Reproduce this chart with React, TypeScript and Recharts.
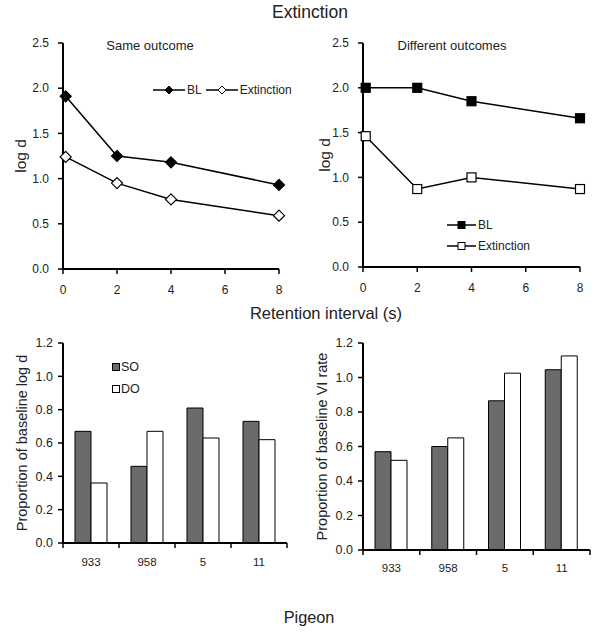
import React from 'react';
import { LineChart, Line, BarChart, Bar, XAxis, YAxis, Legend } from 'recharts';

const intervals = [0.1, 2, 4, 8];
const sameBL = [1.91, 1.25, 1.18, 0.93];
const sameExt = [1.24, 0.95, 0.77, 0.59];
const diffBL = [2.0, 2.0, 1.85, 1.66];
const diffExt = [1.46, 0.87, 1.0, 0.87];
const intervalTicks = [0, 2, 4, 6, 8];
const logTicks = [0, 0.5, 1, 1.5, 2, 2.5];

const pigeons = ['933', '958', '5', '11'];
const logdSO = [0.67, 0.46, 0.81, 0.73];
const logdDO = [0.36, 0.67, 0.63, 0.62];
const rateSO = [0.57, 0.6, 0.865, 1.045];
const rateDO = [0.52, 0.65, 1.025, 1.125];
const propTicks = [0, 0.2, 0.4, 0.6, 0.8, 1.0, 1.2];
// integer slots are the boundaries between pigeons, halves are the pigeons
const slotTicks = [0, 0.5, 1, 1.5, 2, 2.5, 3, 3.5, 4];

const sameData = intervals.map((t, i) => ({ t, bl: sameBL[i], ext: sameExt[i] }));
const diffData = intervals.map((t, i) => ({ t, bl: diffBL[i], ext: diffExt[i] }));
const logdData = pigeons.map((p, i) => ({ slot: i + 0.5, name: p, so: logdSO[i], do: logdDO[i] }));
const rateData = pigeons.map((p, i) => ({ slot: i + 0.5, name: p, so: rateSO[i], do: rateDO[i] }));

const FONT = '"Liberation Sans", Arial, sans-serif';
const INK = '#222';
const SO_FILL = '#6b6b6b';

const tickStyle = { fontSize: 12, fill: INK, fontFamily: FONT };
const barTickStyle = { fontSize: 12.5, fill: INK, fontFamily: FONT };
const axisLine = { stroke: '#000', strokeWidth: 2 };
const tickLine = { stroke: '#000', strokeWidth: 1.5 };

const marker = (shape: string, filled: boolean) => (props: any) => {
  const { cx, cy, index } = props;
  const fill = filled ? '#000' : '#fff';
  if (shape === 'diamond') {
    const r = 5.5;
    return (
      <polygon key={`m-${index}`} points={`${cx},${cy - r} ${cx + r},${cy} ${cx},${cy + r} ${cx - r},${cy}`}
        fill={fill} stroke="#000" strokeWidth={1.2} />
    );
  }
  const h = 4.5;
  return <rect key={`m-${index}`} x={cx - h} y={cy - h} width={h * 2} height={h * 2} fill={fill} stroke="#000" strokeWidth={1.2} />;
};

function LineKey({ shape, filled, label, len }: { shape: string; filled: boolean; label: string; len: number }) {
  const c = len / 2;
  const fill = filled ? '#000' : '#fff';
  return (
    <span style={{ display: 'inline-flex', alignItems: 'center', height: 20 }}>
      <svg width={len} height={10} style={{ marginRight: 2 }}>
        <line x1={0} y1={5} x2={len} y2={5} stroke="#000" strokeWidth={1.5} />
        {shape === 'diamond'
          ? <polygon points={`${c},1 ${c + 4},5 ${c},9 ${c - 4},5`} fill={fill} stroke="#000" />
          : <rect x={c - 3.5} y={1.5} width={7} height={7} fill={fill} stroke="#000" />}
      </svg>
      <span>{label}</span>
    </span>
  );
}

function PigeonTick(props: any) {
  const { x, y, payload, dy } = props;
  const v = payload.value;
  if (Number.isInteger(v)) {
    return <line x1={x} y1={y} x2={x} y2={y + 5} stroke="#000" strokeWidth={1.5} />;
  }
  return (
    <text x={x} y={y + dy} textAnchor="middle" fontSize={11.5} fill={INK} fontFamily={FONT}>
      {pigeons[Math.floor(v)]}
    </text>
  );
}

const overlay = (text: string, x: number, y: number, size: number) => (
  <div style={{ position: 'absolute', left: x, top: y, transform: 'translate(-50%, -50%)', fontSize: size, color: INK, whiteSpace: 'nowrap', lineHeight: 1 }}>
    {text}
  </div>
);

const yLabel = (value: string, offset: number, size: number) => ({
  value, angle: -90, position: 'insideLeft', offset,
  style: { textAnchor: 'middle', fontSize: size, fill: INK, fontFamily: FONT },
});

export default function App() {
  return (
    <div style={{ position: 'relative', width: 605, height: 633, fontFamily: FONT, background: '#fff' }}>
      <style>{'body{margin:0}'}</style>
      {overlay('Extinction', 310, 13, 17.5)}
      {overlay('Retention interval (s)', 326, 313, 16.5)}
      {overlay('Pigeon', 309, 617, 16.3)}
      {overlay('Same outcome', 150, 45, 13)}
      {overlay('Different outcomes', 452, 45, 13)}

      <div style={{ position: 'absolute', left: 0, top: 30 }}>
        <LineChart width={300} height={270} data={sameData} margin={{ top: 13, right: 21, bottom: 1, left: 0 }}>
          <XAxis dataKey="t" type="number" domain={[0, 8]} ticks={intervalTicks} interval={0} height={30}
            tick={tickStyle} axisLine={axisLine} tickLine={tickLine} tickSize={5} tickMargin={11} />
          <YAxis type="number" domain={[0, 2.5]} ticks={logTicks} interval={0} width={63}
            tick={tickStyle} axisLine={axisLine} tickLine={tickLine} tickSize={5} tickMargin={9}
            tickFormatter={(v: number) => v.toFixed(1)}
            label={yLabel('log d', 20, 15.5)} />
          <Legend layout="horizontal" align="center" verticalAlign="middle"
            wrapperStyle={{ left: 153, top: 50, width: 'auto', fontSize: 12, color: INK }}
            content={() => (
              <div style={{ display: 'flex', gap: 4 }}>
                <LineKey shape="diamond" filled label="BL" len={32} />
                <LineKey shape="diamond" filled={false} label="Extinction" len={32} />
              </div>
            )} />
          <Line dataKey="bl" stroke="#000" strokeWidth={1.5} dot={marker('diamond', true)} isAnimationActive={false} />
          <Line dataKey="ext" stroke="#000" strokeWidth={1.5} dot={marker('diamond', false)} isAnimationActive={false} />
        </LineChart>
      </div>

      <div style={{ position: 'absolute', left: 300, top: 30 }}>
        <LineChart width={305} height={270} data={diffData} margin={{ top: 13, right: 25, bottom: 1, left: 0 }}>
          <XAxis dataKey="t" type="number" domain={[0, 8]} ticks={intervalTicks} interval={0} height={32}
            tick={tickStyle} axisLine={axisLine} tickLine={tickLine} tickSize={5} tickMargin={11} />
          <YAxis type="number" domain={[0, 2.5]} ticks={logTicks} interval={0} width={63}
            tick={tickStyle} axisLine={axisLine} tickLine={tickLine} tickSize={5} tickMargin={9}
            tickFormatter={(v: number) => v.toFixed(1)}
            label={yLabel('log d', 24, 15.5)} />
          <Legend layout="vertical" align="center" verticalAlign="middle"
            wrapperStyle={{ left: 147, top: 185, width: 'auto', fontSize: 12, color: INK }}
            content={() => (
              <div style={{ display: 'flex', flexDirection: 'column', gap: 1 }}>
                <LineKey shape="square" filled label="BL" len={29} />
                <LineKey shape="square" filled={false} label="Extinction" len={29} />
              </div>
            )} />
          <Line dataKey="bl" stroke="#000" strokeWidth={1.5} dot={marker('square', true)} isAnimationActive={false} />
          <Line dataKey="ext" stroke="#000" strokeWidth={1.5} dot={marker('square', false)} isAnimationActive={false} />
        </LineChart>
      </div>

      <div style={{ position: 'absolute', left: 0, top: 330 }}>
        <BarChart width={300} height={270} data={logdData} margin={{ top: 13, right: 13, bottom: 1, left: 0 }} barGap={0}>
          <XAxis dataKey="slot" type="number" domain={[0, 4]} ticks={slotTicks} interval={0} height={56}
            axisLine={axisLine} tickLine={false} tickSize={0} tickMargin={0} tick={<PigeonTick dy={23} />} />
          <YAxis type="number" domain={[0, 1.2]} ticks={propTicks} interval={0} width={63}
            tick={barTickStyle} axisLine={axisLine} tickLine={tickLine} tickSize={5} tickMargin={5}
            tickFormatter={(v: number) => v.toFixed(1)}
            label={yLabel('Proportion of baseline log d', 22, 14.5)} />
          <Legend layout="vertical" align="center" verticalAlign="middle"
            wrapperStyle={{ left: 112, top: 28, width: 'auto', fontSize: 12.5, color: INK }}
            content={() => (
              <div style={{ display: 'flex', flexDirection: 'column', gap: 5 }}>
                {[['SO', SO_FILL], ['DO', '#fff']].map(([name, fill]) => (
                  <span key={name} style={{ display: 'inline-flex', alignItems: 'center', height: 17 }}>
                    <svg width={8} height={8} style={{ marginRight: 1 }}>
                      <rect x={0.5} y={0.5} width={7} height={7} fill={fill} stroke="#000" />
                    </svg>
                    {name}
                  </span>
                ))}
              </div>
            )} />
          <Bar dataKey="so" fill={SO_FILL} stroke="#000" strokeWidth={1} barSize={16} isAnimationActive={false} />
          <Bar dataKey="do" fill="#fff" stroke="#000" strokeWidth={1} barSize={16} isAnimationActive={false} />
        </BarChart>
      </div>

      <div style={{ position: 'absolute', left: 300, top: 330 }}>
        <BarChart width={305} height={270} data={rateData} margin={{ top: 13, right: 15, bottom: 1, left: 0 }} barGap={0}>
          <XAxis dataKey="slot" type="number" domain={[0, 4]} ticks={slotTicks} interval={0} height={49}
            axisLine={axisLine} tickLine={false} tickSize={0} tickMargin={0} tick={<PigeonTick dy={22} />} />
          <YAxis type="number" domain={[0, 1.2]} ticks={propTicks} interval={0} width={63}
            tick={barTickStyle} axisLine={axisLine} tickLine={tickLine} tickSize={5} tickMargin={5}
            tickFormatter={(v: number) => v.toFixed(1)}
            label={yLabel('Proportion of baseline VI rate', 22, 14.5)} />
          <Bar dataKey="so" fill={SO_FILL} stroke="#000" strokeWidth={1} barSize={16} isAnimationActive={false} />
          <Bar dataKey="do" fill="#fff" stroke="#000" strokeWidth={1} barSize={16} isAnimationActive={false} />
        </BarChart>
      </div>
    </div>
  );
}
